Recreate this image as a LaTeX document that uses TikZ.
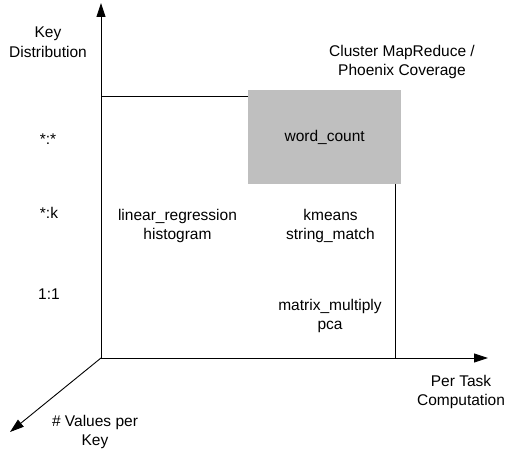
\documentclass[tikz,border=0pt]{standalone}
\usepackage{fontspec}
\setmainfont{Liberation Sans}
\usetikzlibrary{arrows.meta}
\begin{document}
\begin{tikzpicture}[x=1pt,y=-1pt,
  axis/.style={line width=0.9pt,-{Triangle[length=14pt,width=9pt]}},
  frame/.style={line width=0.9pt},
  lbl/.style={font=\fontsize{15.5}{19.5}\selectfont,align=center,inner sep=0pt},
  coverage/.style={fill=black!25,draw=none}]
\useasboundingbox (0,0) rectangle (511,449);

% axes
\coordinate (o) at (101,358);
\coordinate (ytip) at (101,3);
\coordinate (xtip) at (488,358);
\coordinate (ztip) at (10,432);
\draw[axis] (o) -- (ytip);
\draw[axis] (o) -- (xtip);
\draw[axis] (o) -- (ztip);

% coverage region
\node[coverage,minimum width=153pt,minimum height=94pt,inner sep=0pt,anchor=north west]
  (wc) at (248,90) {};
\node[lbl] at (wc.center) {word\_count};
\coordinate (topl) at (101,96);
\coordinate (topr) at (248,96);
\coordinate (rtop) at (395.5,184);
\coordinate (rbot) at (395.5,358);
\draw[frame] (topl) -- (topr);
\draw[frame] (rtop) -- (rbot);

% axis labels
\node[lbl] (ylab) at (48,42) {Key\\Distribution};
\node[lbl] (xlab) at (461,392) {Per Task\\Computation};
\node[lbl] (zlab) at (95,432) {\# Values per\\Key};
\node[lbl] (cov) at (402,62) {Cluster MapReduce /\\Phoenix Coverage};

% key distribution levels
\node[lbl] (l1) at (48,139) {*:*};
\node[lbl] (l2) at (49,213) {*:k};
\node[lbl] (l3) at (49,294) {1:1};

% benchmarks
\node[lbl] (b1) at (177.5,226) {linear\_regression\\histogram};
\node[lbl] (b2) at (330.5,226) {kmeans\\string\_match};
\node[lbl] (b3) at (330,316) {matrix\_multiply\\pca};
\end{tikzpicture}
\end{document}
